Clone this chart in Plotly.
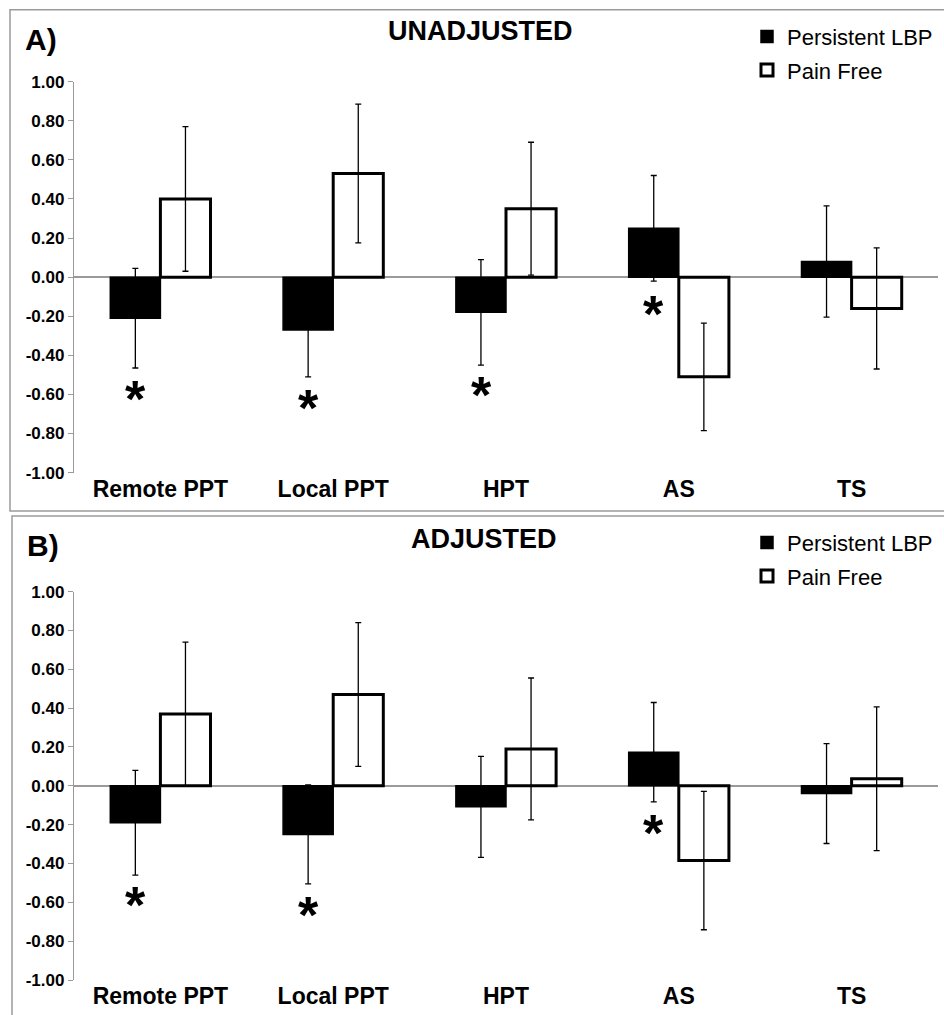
import plotly.graph_objects as go

W, H = 944, 1015

categories = ["Remote PPT", "Local PPT", "HPT", "AS", "TS"]
series_names = ["Persistent LBP", "Pain Free"]

# Panel A – unadjusted
a_lbp = [-0.21, -0.27, -0.18, 0.25, 0.08]
a_lbp_err = [0.255, 0.24, 0.27, 0.27, 0.285]
a_free = [0.40, 0.53, 0.35, -0.51, -0.16]
a_free_err = [0.37, 0.355, 0.34, 0.275, 0.31]
a_star_cats = ["Remote PPT", "Local PPT", "HPT", "AS"]
a_star_y = [-0.59, -0.636, -0.568, -0.155]

# Panel B – adjusted
b_lbp = [-0.19, -0.25, -0.108, 0.173, -0.04]
b_lbp_err = [0.27, 0.255, 0.26, 0.256, 0.257]
b_free = [0.37, 0.47, 0.19, -0.385, 0.036]
b_free_err = [0.37, 0.37, 0.365, 0.356, 0.37]
b_star_cats = ["Remote PPT", "Local PPT", "AS"]
b_star_y = [-0.58, -0.63, -0.205]

ytick_vals = [1.0, 0.8, 0.6, 0.4, 0.2, 0.0, -0.2, -0.4, -0.6, -0.8, -1.0]
ytick_text = ["1.00", "0.80", "0.60", "0.40", "0.20", "0.00", "-0.20", "-0.40", "-0.60", "-0.80", "-1.00"]

panel_titles = ["UNADJUSTED", "ADJUSTED"]
panel_letters = ["A)", "B)"]

FONT = "Arial, Liberation Sans, Helvetica, sans-serif"
GRAY = "#9a9a9a"

# vertical calibration of the capture (observed: shown_y = 0.9815 * page_y + 8)
VS, VO = 0.9815, 8.0


def px_x(p):
    return p / W


def px_y(t):
    page = (t - VO) / VS
    return 1 - page / H


fig = go.Figure()

panels = [
    dict(lbp=a_lbp, lbp_err=a_lbp_err, free=a_free, free_err=a_free_err,
         xa="x", ya="y", leg="legend", stars=(a_star_cats, a_star_y)),
    dict(lbp=b_lbp, lbp_err=b_lbp_err, free=b_free, free_err=b_free_err,
         xa="x2", ya="y2", leg="legend2", stars=(b_star_cats, b_star_y)),
]

for i, p in enumerate(panels):
    fig.add_trace(go.Bar(
        x=categories, y=p["lbp"], name=series_names[0],
        marker=dict(color="black", line=dict(color="black", width=1.5)),
        error_y=dict(type="data", array=p["lbp_err"], color="black", thickness=1.3, width=3),
        xaxis=p["xa"], yaxis=p["ya"], legend=p["leg"], legendgroup=f"g{i}a",
    ))
    fig.add_trace(go.Bar(
        x=categories, y=p["free"], name=series_names[1],
        marker=dict(color="white", line=dict(color="black", width=3)),
        error_y=dict(type="data", array=p["free_err"], color="black", thickness=1.3, width=3),
        xaxis=p["xa"], yaxis=p["ya"], legend=p["leg"], legendgroup=f"g{i}b",
    ))

x_dom = [px_x(74), px_x(938)]
ya_dom = [px_y(471.7), px_y(80.7)]
yb_dom = [px_y(979.3), px_y(590.7)]

yaxis_common = dict(
    range=[-1, 1], tickvals=ytick_vals, ticktext=ytick_text,
    showline=True, linecolor=GRAY, linewidth=1.3,
    ticks="outside", ticklen=5, tickcolor=GRAY, tickwidth=1.3,
    showgrid=False, zeroline=True, zerolinecolor=GRAY, zerolinewidth=1.6,
    tickfont=dict(family=FONT, size=17, color="black", weight="bold"),
    fixedrange=True,
)
xaxis_common = dict(
    showline=False, ticks="", showgrid=False, zeroline=False,
    tickfont=dict(family=FONT, size=23, color="black", weight="bold"),
    fixedrange=True,
)

legend_common = dict(
    font=dict(family=FONT, size=22, color="black"),
    bgcolor="rgba(0,0,0,0)", borderwidth=0,
    xanchor="left", yanchor="top", traceorder="grouped", tracegroupgap=2,
)

fig.update_layout(
    width=W, height=H,
    margin=dict(l=0, r=0, t=0, b=0),
    paper_bgcolor="white", plot_bgcolor="rgba(0,0,0,0)",
    barmode="group", bargap=0.42, bargroupgap=0,
    xaxis=dict(domain=x_dom, anchor="y", **xaxis_common),
    yaxis=dict(domain=ya_dom, anchor="x", **yaxis_common),
    xaxis2=dict(domain=x_dom, anchor="y2", **xaxis_common),
    yaxis2=dict(domain=yb_dom, anchor="x2", **yaxis_common),
    legend=dict(x=px_x(747), y=1 - 6.8 / H, **legend_common),
    legend2=dict(x=px_x(747), y=1 - 522.4 / H, **legend_common),
    showlegend=True,
)

# panel borders
fig.add_shape(type="rect", xref="paper", yref="paper",
              x0=px_x(10), x1=1.02, y0=px_y(510), y1=px_y(8.8),
              line=dict(color=GRAY, width=1.5), fillcolor="rgba(0,0,0,0)", layer="below")
fig.add_shape(type="rect", xref="paper", yref="paper",
              x0=px_x(12), x1=1.02, y0=-0.05, y1=px_y(515),
              line=dict(color=GRAY, width=1.5), fillcolor="rgba(0,0,0,0)", layer="below")

# titles and panel letters
title_pos = [(480, 30), (484, 538)]
letter_pos = [(23, 38.5), (25, 545)]
for i in range(2):
    fig.add_annotation(text=panel_titles[i], xref="paper", yref="paper",
                       x=px_x(title_pos[i][0]), y=px_y(title_pos[i][1]),
                       xanchor="center", yanchor="middle", showarrow=False,
                       font=dict(family=FONT, size=27, color="black", weight="bold"))
    fig.add_annotation(text=panel_letters[i], xref="paper", yref="paper",
                       x=px_x(letter_pos[i][0]), y=px_y(letter_pos[i][1]),
                       xanchor="left", yanchor="middle", showarrow=False,
                       font=dict(family=FONT, size=30, color="black", weight=900))

# significance asterisks
for p in panels:
    cats, ys = p["stars"]
    for c, v in zip(cats, ys):
        fig.add_annotation(text="*", x=c, y=v, xref=p["xa"], yref=p["ya"],
                           xshift=-25, yshift=-7, showarrow=False,
                           xanchor="center", yanchor="middle",
                           font=dict(family=FONT, size=52, color="black", weight="bold"))

# pin the graph to the page's top-left corner so it fills the window exactly
pin_script = (
    "document.body.style.margin='0';"
    "document.body.style.overflow='hidden';"
    "var d=document.getElementById('{plot_id}');"
    "d.style.position='fixed';d.style.left='0px';d.style.top='0px';"
)

fig.write_html("out.html", config={"displayModeBar": False}, post_script=pin_script)
